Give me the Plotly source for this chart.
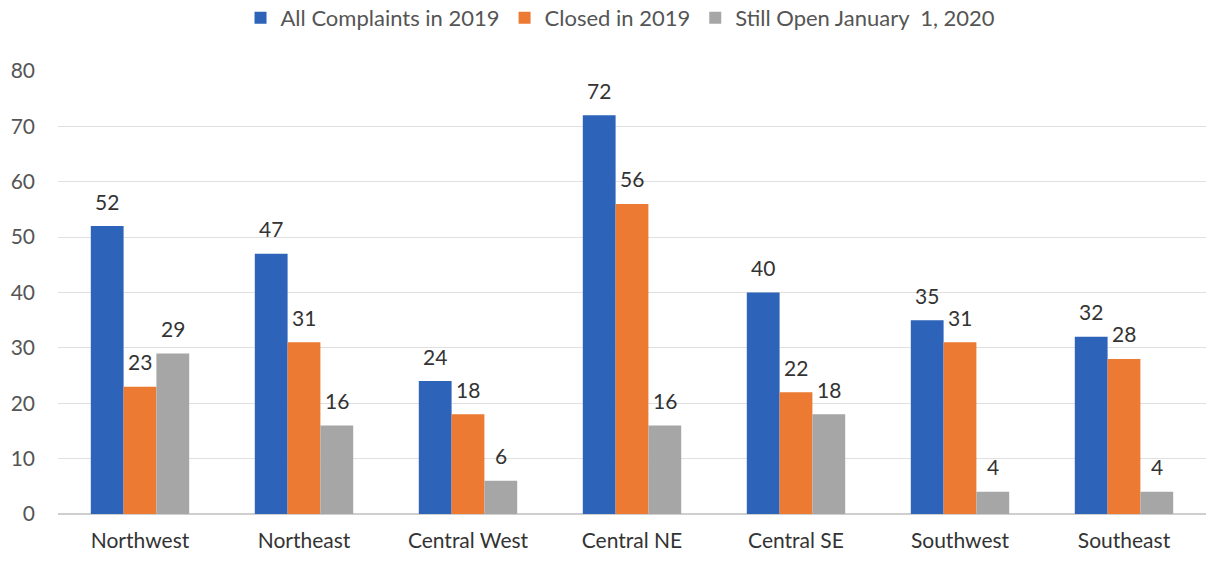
import plotly.graph_objects as go

regions = ["Northwest", "Northeast", "Central West", "Central NE", "Central SE", "Southwest", "Southeast"]
all_complaints = [52, 47, 24, 72, 40, 35, 32]
closed_2019 = [23, 31, 18, 56, 22, 31, 28]
still_open = [29, 16, 6, 16, 18, 4, 4]

series = [
    ("All Complaints in 2019", all_complaints, "#2D63B8"),
    ("Closed in 2019", closed_2019, "#EC7A32"),
    ("Still Open January  1, 2020", still_open, "#A6A6A6"),
]

font_family = "Lato, 'Open Sans', sans-serif"
grey_text = "#555555"
label_shift = [-33, 0, 33]  # pixel offset of each bar inside its group

fig = go.Figure()
for i, (name, vals, col) in enumerate(series):
    fig.add_trace(go.Bar(
        x=regions,
        y=vals,
        name=name,
        marker=dict(color=col, line=dict(width=0)),
    ))
    # value labels sit a bit higher above the bars than plotly's "outside" text
    for reg, v in zip(regions, vals):
        fig.add_annotation(
            x=reg, y=v, text=str(v),
            showarrow=False,
            xshift=label_shift[i], yshift=25,
            yanchor="middle",
            font=dict(size=21, color="#333333", family=font_family),
        )

fig.update_layout(
    width=1207,
    height=571,
    barmode="group",
    bargap=0.4,
    bargroupgap=0,
    plot_bgcolor="white",
    paper_bgcolor="white",
    margin=dict(l=58, r=1, t=71, b=57, autoexpand=False),
    font=dict(family=font_family, size=21, color=grey_text),
    legend=dict(
        orientation="h",
        x=0.49, xanchor="center",
        y=1.12, yanchor="middle",
        font=dict(size=22, color=grey_text),
        traceorder="normal",
    ),
)
fig.update_yaxes(
    range=[0, 80],
    dtick=10,
    showgrid=True,
    gridcolor="#E0E0E0",
    gridwidth=1,
    zeroline=True,
    zerolinecolor="#CFCFCF",
    tickfont=dict(size=21, color=grey_text),
    ticklabelstandoff=22,
    automargin=False,
)
fig.update_xaxes(
    showgrid=False,
    tickfont=dict(size=21, color="#333333"),
    showline=False,
    ticklabelstandoff=12,
    automargin=False,
)

# drop the browser's default 8px body margin so the figure fills the window
fig.write_html(
    "out.html",
    config={"displayModeBar": False},
    post_script="document.body.style.margin='0';",
)
